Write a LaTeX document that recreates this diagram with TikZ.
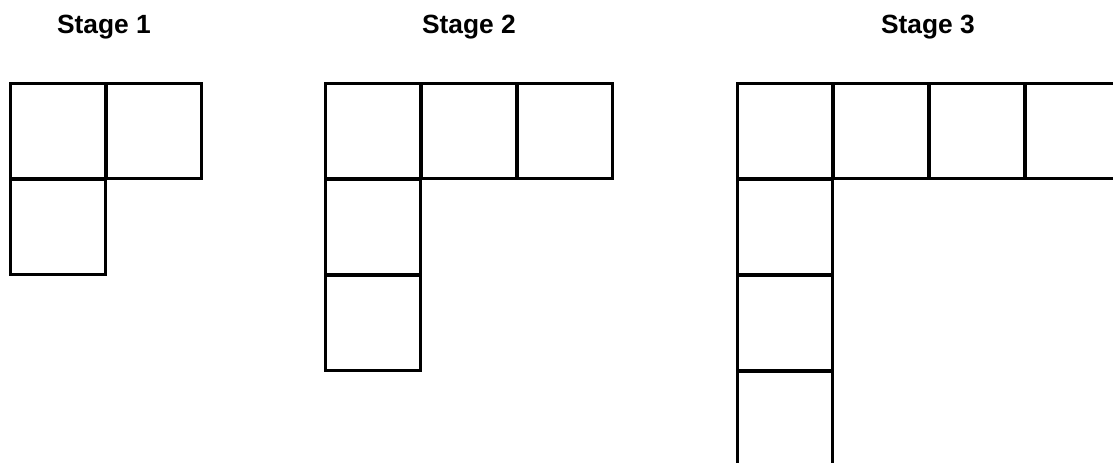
\documentclass[tikz,border=0pt]{standalone}
\usepackage{fontspec}
\setmainfont{Liberation Sans}
\tikzset{
  sq/.style={draw,line width=0.06cm,minimum size=1.92cm,inner sep=0pt,outer sep=0pt},
  stagelbl/.style={anchor=base,font=\fontsize{15}{17}\selectfont\bfseries}
}
\begin{document}
\begin{tikzpicture}[x=0.02cm,y=-0.02cm]
\useasboundingbox (0,0) rectangle (1113,463);
\clip (0,0) rectangle (1113,463);
% stage labels
\node[stagelbl] (l1) at (104,33) {Stage 1};
\node[stagelbl] (l2) at (469,33) {Stage 2};
\node[stagelbl] (l3) at (928,33) {Stage 3};
% stage 1
\foreach \i in {0,1}{
 \node[sq] (a\i) at (58+96*\i,131) {};
}
\node[sq] (av1) at (58,227) {};
% stage 2
\foreach \i in {0,1,2}{
 \node[sq] (b\i) at (373+96*\i,131) {};
}
\foreach \j in {1,2}{
 \node[sq] (bv\j) at (373,131+96*\j) {};
}
% stage 3
\foreach \i in {0,1,2,3}{
 \node[sq] (c\i) at (785+96*\i,131) {};
}
\foreach \j in {1,2,3}{
 \node[sq] (cv\j) at (785,131+96*\j) {};
}
\end{tikzpicture}
\end{document}
